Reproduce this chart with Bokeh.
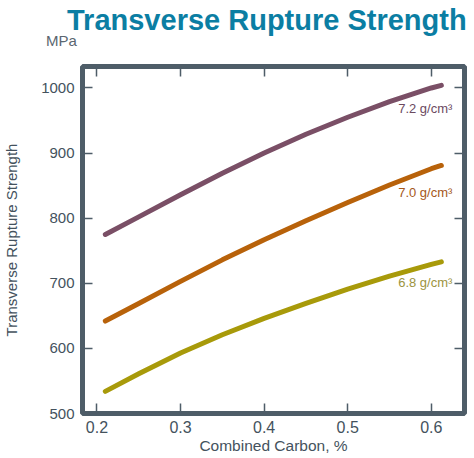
from bokeh.plotting import figure
from bokeh.models import Range1d, LinearAxis, FixedTicker, Title, CustomJSTickFormatter
from bokeh.core.properties import value
from bokeh.embed import file_html
from bokeh.resources import INLINE

# Data
carbon = [0.21, 0.25, 0.3, 0.35, 0.4, 0.45, 0.5, 0.55, 0.6, 0.612]
trs_72 = [775, 802, 836, 869, 900, 929, 955, 979, 1000, 1004]
trs_70 = [642, 669, 703, 736, 767, 796, 824, 851, 876, 881]
trs_68 = [534, 561, 593, 621, 646, 669, 691, 711, 729, 733]
series_labels = ["7.2 g/cm³", "7.0 g/cm³", "6.8 g/cm³"]
x_ticks = [0.2, 0.3, 0.4, 0.5, 0.6]
y_ticks = [500, 600, 700, 800, 900, 1000]

FRAME = "#4e5d68"
TICKTXT = "#44525d"
FONT = "Liberation Sans"

p = figure(frame_width=382, frame_height=347, output_backend="svg",
           toolbar_location=None,
           x_range=Range1d(0.1827, 0.6397), y_range=Range1d(500, 1033),
           min_border_left=76, min_border_right=4, min_border_top=0,
           min_border_bottom=45, background_fill_color="white",
           border_fill_color="white")
p.grid.visible = False
p.outline_line_color = FRAME
p.outline_line_width = 5

for ax in (p.xaxis[0], p.yaxis[0]):
    ax.axis_line_color = None
    ax.major_tick_in = 10
    ax.major_tick_out = 0
    ax.minor_tick_line_color = None
    ax.major_tick_line_color = FRAME
    ax.major_tick_line_width = 1.5
    ax.major_label_text_font = FONT
    ax.major_label_text_color = TICKTXT
    ax.axis_label_text_font = FONT
    ax.axis_label_text_font_style = "normal"
    ax.axis_label_text_color = TICKTXT

p.xaxis[0].ticker = FixedTicker(ticks=x_ticks)
p.yaxis[0].ticker = FixedTicker(ticks=y_ticks)
p.xaxis[0].major_label_text_font_size = "16px"
p.yaxis[0].major_label_text_font_size = "15px"
p.xaxis[0].major_label_standoff = 7
p.yaxis[0].major_label_standoff = 8
p.xaxis[0].axis_label = "Combined Carbon, %"
p.yaxis[0].axis_label = "Transverse Rupture Strength"
p.xaxis[0].axis_label_text_font_size = "15.5px"
p.yaxis[0].axis_label_text_font_size = "15px"
p.xaxis[0].axis_label_standoff = 1
p.yaxis[0].axis_label_standoff = 18


def hidden_axis(tick, tick_in, tick_out, color):
    ax = LinearAxis(ticker=FixedTicker(ticks=tick),
                    formatter=CustomJSTickFormatter(code="return ''"))
    ax.axis_line_color = None
    ax.major_tick_in = tick_in
    ax.major_tick_out = tick_out
    ax.minor_tick_line_color = None
    ax.major_tick_line_color = color
    ax.major_tick_line_width = 1.5
    ax.major_label_text_color = None
    ax.major_label_standoff = 0
    return ax


# inner ticks on top and right (no labels)
p.add_layout(hidden_axis(x_ticks, 10, 0, FRAME), "above")
p.add_layout(hidden_axis(y_ticks, 10, 0, FRAME), "right")
# empty spacer between the frame and the unit label
p.add_layout(hidden_axis(x_ticks, 0, 25, None), "above")

colors = ["#7a4f66", "#b8620a", "#a89a0a"]
text_colors = ["#6b4a5f", "#a5581a", "#9c9440"]
label_dy = [23, 27, 21]
for ys, c, tc, lab, dy in zip([trs_72, trs_70, trs_68], colors, text_colors,
                              series_labels, label_dy):
    p.line(carbon, ys, line_color=c, line_width=5, line_cap="round",
           line_join="round")
    p.text(x=[carbon[-1]], y=[ys[-1]], text=[lab], text_align="right",
           text_baseline="middle", x_offset=11, y_offset=dy,
           text_font=value(FONT), text_font_size="13px", text_color=tc)

p.add_layout(Title(text="MPa", align="left", offset=-36.5, standoff=-14,
                   text_font=FONT, text_font_style="normal",
                   text_font_size="15px", text_color="#5a6670"), "above")
p.title = Title(text="Transverse Rupture Strength", align="left", offset=-15.5,
                standoff=2, text_font=FONT, text_font_style="bold",
                text_font_size="29px", text_color="#0b7ea3")

open("out.html", "w").write(file_html(p, INLINE))
